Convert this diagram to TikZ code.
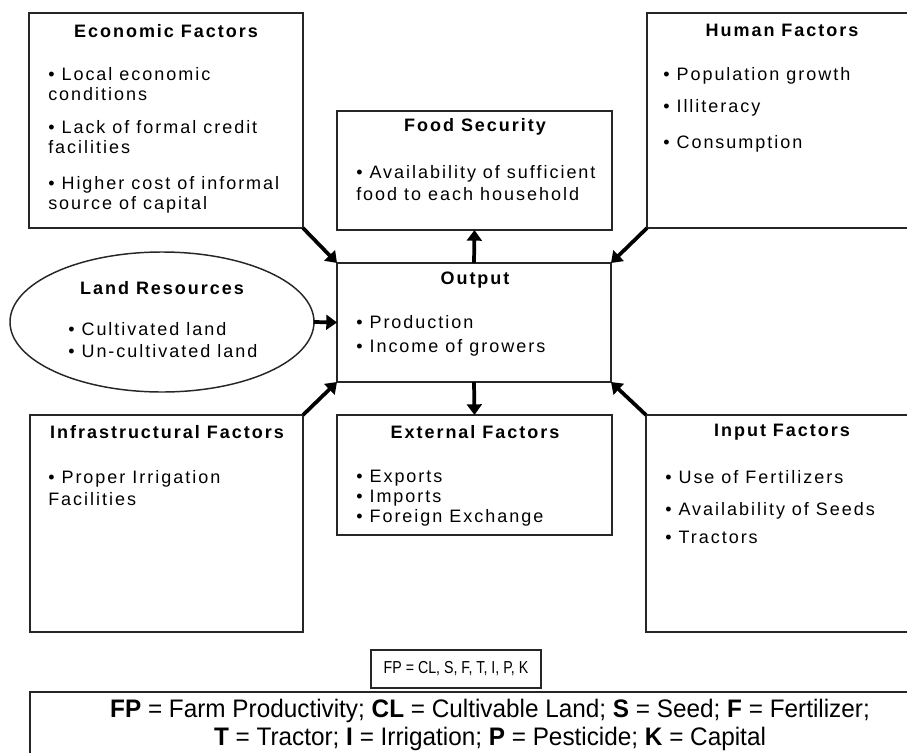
\documentclass[tikz,border=0pt]{standalone}
\usepackage{fontspec}
\setmainfont{Liberation Sans}[LetterSpace=11]
\newfontfamily\narrowfont{Liberation Sans}[FakeStretch=0.96]
\newfontfamily\condfont{Liberation Sans}[FakeStretch=0.82]
\usetikzlibrary{positioning,arrows.meta,shapes.geometric}

\tikzset{
    box/.style 2 args={draw=black!85, line width=1.5pt, minimum width=#1, minimum height=#2, inner sep=0pt, outer sep=0pt},
    head/.style={font=\fontsize{13.5}{15}\selectfont\bfseries, inner sep=0pt},
    items/.style={align=left, anchor=north west, inner sep=0pt, font=\fontsize{13.5}{15}\selectfont},
    conn/.style={line width=2.8pt, -{Triangle[length=8pt,width=11pt]}},
}

\begin{document}
\begin{tikzpicture}[x=0.75pt, y=-0.75pt]
    \useasboundingbox (0,0) rectangle (907,753);

    % boxes
    \node[box={205.5pt}{161.25pt}] (eco) at (166,120.5) {};
    \node[box={198.75pt}{161.25pt}] (hum) at (779.5,120.5) {};
    \node[box={206.25pt}{89.25pt}] (food) at (474.5,170.5) {};
    \node[box={205.5pt}{89.25pt}] (out) at (474,322.5) {};
    \node[draw=black!85, line width=1.1pt, ellipse, minimum width=228pt, minimum height=105pt, inner sep=0pt, outer sep=0pt] (land) at (162,322) {};
    \node[box={204.75pt}{162.75pt}] (infra) at (166.5,523.5) {};
    \node[box={206.25pt}{90pt}] (ext) at (474.5,475) {};
    \node[box={199.5pt}{162.75pt}] (inp) at (779,523.5) {};
    \node[box={127.5pt}{28.5pt}, line width=1.2pt] (fp) at (456,669) {};
    \node[box={697.5pt}{58.5pt}, line width=1.2pt] (legend) at (495,731) {};

    % headings
    \node[head] (ecoT) at (166,31) {Economic Factors};
    \node[head] (humT) at (782,30) {Human Factors};
    \node[head] (foodT) at (475,127) {Food Security};
    \node[head] (outT) at (475,280) {Output};
    \node[head] (landT) at (162,288) {Land Resources};
    \node[head] (infraT) at (167,432) {Infrastructural Factors};
    \node[head] (extT) at (475,432) {External Factors};
    \node[head] (inpT) at (782,432) {Input Factors};

    % bullet lists
    \node[items] (ecoL) at (48,67) {• Local economic\\conditions\\[9.75pt]• Lack of formal credit\\facilities\\[12pt]• Higher cost of informal\\source of capital};
    \node[items] (humL) at (663,67) {• Population growth\\[9pt]• Illiteracy\\[12pt]• Consumption};
    \node[items] (foodL) at (356,165) {• Availability of sufficient\\[1.5pt]food to each household};
    \node[items] (outL) at (356,315) {• Production\\[3pt]• Income of growers};
    \node[items] (landL) at (68,322) {• Cultivated land\\[1.5pt]• Un-cultivated land};
    \node[items] (infraL) at (48,470) {• Proper Irrigation\\[1.5pt]Facilities};
    \node[items] (extL) at (356,470) {• Exports\\• Imports\\• Foreign Exchange};
    \node[items] (inpL) at (665,470) {• Use of Fertilizers\\[9pt]• Availability of Seeds\\[6pt]• Tractors};

    % formula and legend
    \node[inner sep=0pt, font=\condfont\fontsize{13}{15}\selectfont] (fpT) at (456,669) {FP = CL, S, F, T, I, P, K};
    \node[align=center, inner sep=0pt, font=\narrowfont\fontsize{19}{21}\selectfont] (legendT) at (490,725)
        {\textbf{FP} = Farm Productivity; \textbf{CL} = Cultivable Land; \textbf{S} = Seed; \textbf{F} = Fertilizer;\\
         \textbf{T} = Tractor; \textbf{I} = Irrigation; \textbf{P} = Pesticide; \textbf{K} = Capital};

    % arrows
    \draw[conn] (eco.south east) -- (out.north west);
    \draw[conn] (hum.south west) -- (out.north east);
    \draw[conn] (infra.north east) -- (out.south west);
    \draw[conn] (inp.north west) -- (out.south east);
    \draw[conn] (land.east) -- (out.west);
    \draw[conn] (out.north) -- (food.south);
    \draw[conn] (out.south) -- (ext.north);
\end{tikzpicture}
\end{document}
